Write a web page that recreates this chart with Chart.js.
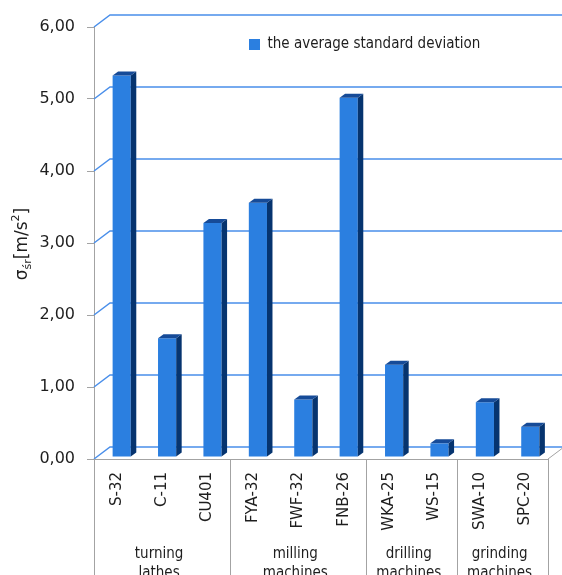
<!DOCTYPE html>
<html>
<head>
<meta charset="utf-8">
<script src="https://cdn.jsdelivr.net/npm/chart.js@4/dist/chart.umd.min.js"></script>
<style>
  html, body { margin: 0; padding: 0; background: #fff; }
  #wrap { width: 562px; height: 575px; }
</style>
</head>
<body>
<div id="wrap"><canvas id="c"></canvas></div>
<script>
// Machines tested and the average standard deviation of vibration acceleration [m/s²]
const machines = ['S-32', 'C-11', 'CU401', 'FYA-32', 'FWF-32', 'FNB-26', 'WKA-25', 'WS-15', 'SWA-10', 'SPC-20'];
const avgStdDev = [5.30, 1.65, 3.25, 3.53, 0.80, 4.99, 1.28, 0.19, 0.76, 0.42];
const groupNames = [['turning', 'lathes'], ['milling', 'machines'], ['drilling', 'machines'], ['grinding', 'machines']];
const groupSizes = [3, 3, 2, 2];
const yTicks = [0, 1, 2, 3, 4, 5, 6];
const seriesName = 'the average standard deviation';

// look of the pseudo-3D frame
const FRONT = '#2b7fe0', SIDE = '#06346f', TOP = '#164b98';
const GRID = '#4a8fea', AXIS = '#a3a3a3', TEXT = '#1e1e1e';
const WALL_DX = 16, WALL_DY = 12;   // depth of the walls
const BAR_DX = 5.5, BAR_DY = 4;     // depth of each bar
const BAR_SHIFT_X = 5, BAR_SHIFT_Y = -2;

const FONT = 'DejaVu Sans';
const NARROW = '"DejaVu Sans Condensed", "DejaVu Sans"';
Chart.defaults.font.family = FONT;
Chart.defaults.color = TEXT;

const depth3d = {
  id: 'depth3d',
  afterLayout(chart) {
    // legend floats inside the plot, over the back wall
    const lg = chart.legend;
    const a = chart.chartArea;
    const w = lg.width, h = lg.height;
    lg.left = a.left + 145; lg.right = lg.left + w;
    lg.top = a.top; lg.bottom = lg.top + h;
  },
  beforeDatasetsDraw(chart) {
    const { ctx, chartArea: a, scales: { y } } = chart;
    ctx.save();
    // back-wall gridlines with the floor/side bevel
    ctx.strokeStyle = GRID;
    ctx.lineWidth = 1.5;
    yTicks.forEach(v => {
      const py = y.getPixelForValue(v);
      ctx.beginPath();
      ctx.moveTo(a.left, py);
      ctx.lineTo(a.left + WALL_DX, py - WALL_DY);
      ctx.lineTo(chart.width, py - WALL_DY);
      ctx.stroke();
    });
    // right edge of the floor
    ctx.strokeStyle = AXIS;
    ctx.lineWidth = 1;
    ctx.beginPath();
    ctx.moveTo(a.right, a.bottom);
    ctx.lineTo(a.right + WALL_DX, a.bottom - WALL_DY);
    ctx.stroke();
    ctx.restore();
    // bars sit slightly behind the front plane
    ctx.save();
    ctx.translate(BAR_SHIFT_X, BAR_SHIFT_Y);
  },
  afterDatasetsDraw(chart) {
    const ctx = chart.ctx;
    chart.getDatasetMeta(0).data.forEach(bar => {
      const { x, y, base, width } = bar.getProps(['x', 'y', 'base', 'width'], true);
      const l = x - width / 2, r = x + width / 2;
      ctx.fillStyle = SIDE;
      ctx.beginPath();
      ctx.moveTo(r, y);
      ctx.lineTo(r + BAR_DX, y - BAR_DY);
      ctx.lineTo(r + BAR_DX, base - BAR_DY);
      ctx.lineTo(r, base);
      ctx.closePath();
      ctx.fill();
      ctx.fillStyle = TOP;
      ctx.beginPath();
      ctx.moveTo(l, y);
      ctx.lineTo(l + BAR_DX, y - BAR_DY);
      ctx.lineTo(r + BAR_DX, y - BAR_DY);
      ctx.lineTo(r, y);
      ctx.closePath();
      ctx.fill();
    });
    ctx.restore();
  },
  afterDraw(chart) {
    const { ctx, chartArea: a, scales: { x } } = chart;
    const step = x.getPixelForTick(1) - x.getPixelForTick(0);
    ctx.save();
    // group separators and group names below the machine labels
    ctx.strokeStyle = AXIS;
    ctx.lineWidth = 1;
    ctx.fillStyle = TEXT;
    ctx.font = '15px ' + NARROW;
    ctx.textAlign = 'center';
    ctx.textBaseline = 'alphabetic';
    let idx = 0;
    const edge = i => x.getPixelForTick(0) - step / 2 + i * step;
    const drawSep = px => {
      ctx.beginPath();
      ctx.moveTo(Math.round(px) + 0.5, a.bottom);
      ctx.lineTo(Math.round(px) + 0.5, chart.height);
      ctx.stroke();
    };
    drawSep(edge(0));
    groupSizes.forEach((n, g) => {
      const x0 = edge(idx), x1 = edge(idx + n);
      drawSep(x1);
      const cx = (x0 + x1) / 2 - 3;
      groupNames[g].forEach((line, k) => ctx.fillText(line, cx, 558 + k * 19));
      idx += n;
    });

    // axis title: σ with subscript śr, unit m/s²
    const parts = [
      { t: 'σ', size: 17, dy: 0 },
      { t: 'śr', size: 11, dy: 4 },
      { t: '[m/s', size: 17, dy: 0 },
      { t: '2', size: 11, dy: -8 },
      { t: ']', size: 17, dy: 0 }
    ];
    let total = 0;
    parts.forEach(p => {
      ctx.font = p.size + 'px "' + FONT + '"';
      p.w = ctx.measureText(p.t).width;
      total += p.w;
    });
    ctx.translate(27, (a.top + a.bottom) / 2 + 1);
    ctx.rotate(-Math.PI / 2);
    ctx.textAlign = 'left';
    let cur = -total / 2;
    parts.forEach(p => {
      ctx.font = p.size + 'px "' + FONT + '"';
      ctx.fillText(p.t, cur, p.dy);
      cur += p.w;
    });
    ctx.restore();
  }
};

new Chart(document.getElementById('c'), {
  type: 'bar',
  data: {
    labels: machines,
    datasets: [{
      label: seriesName,
      data: avgStdDev,
      backgroundColor: FRONT,
      borderWidth: 0,
      barPercentage: 0.4,
      categoryPercentage: 1.0
    }]
  },
  options: {
    responsive: true,
    maintainAspectRatio: false,
    animation: false,
    events: [],
    layout: { padding: { left: 0, right: 14, top: 27, bottom: 0 } },
    plugins: {
      tooltip: { enabled: false },
      legend: {
        position: 'chartArea',
        align: 'start',
        labels: {
          boxWidth: 11,
          boxHeight: 11,
          padding: 10,
          font: { size: 15, family: NARROW },
          color: TEXT
        }
      }
    },
    scales: {
      x: {
        grid: { display: false, drawTicks: false },
        border: { display: true, color: AXIS, width: 1 },
        ticks: {
          autoSkip: false,
          minRotation: 90,
          maxRotation: 90,
          padding: 13,
          font: { size: 15, family: FONT },
          color: TEXT
        },
        afterFit(scale) { scale.height = 116; }
      },
      y: {
        min: 0,
        max: 6,
        afterBuildTicks(scale) { scale.ticks = yTicks.map(v => ({ value: v })); },
        grid: { drawOnChartArea: false, drawTicks: true, tickLength: 7, color: AXIS },
        border: { display: true, color: AXIS, width: 1 },
        ticks: {
          padding: 12,
          font: { size: 16, family: FONT },
          color: TEXT,
          callback: v => v.toFixed(2).replace('.', ',')
        },
        afterFit(scale) { scale.width = 94; }
      }
    }
  },
  plugins: [depth3d]
});
</script>
</body>
</html>
